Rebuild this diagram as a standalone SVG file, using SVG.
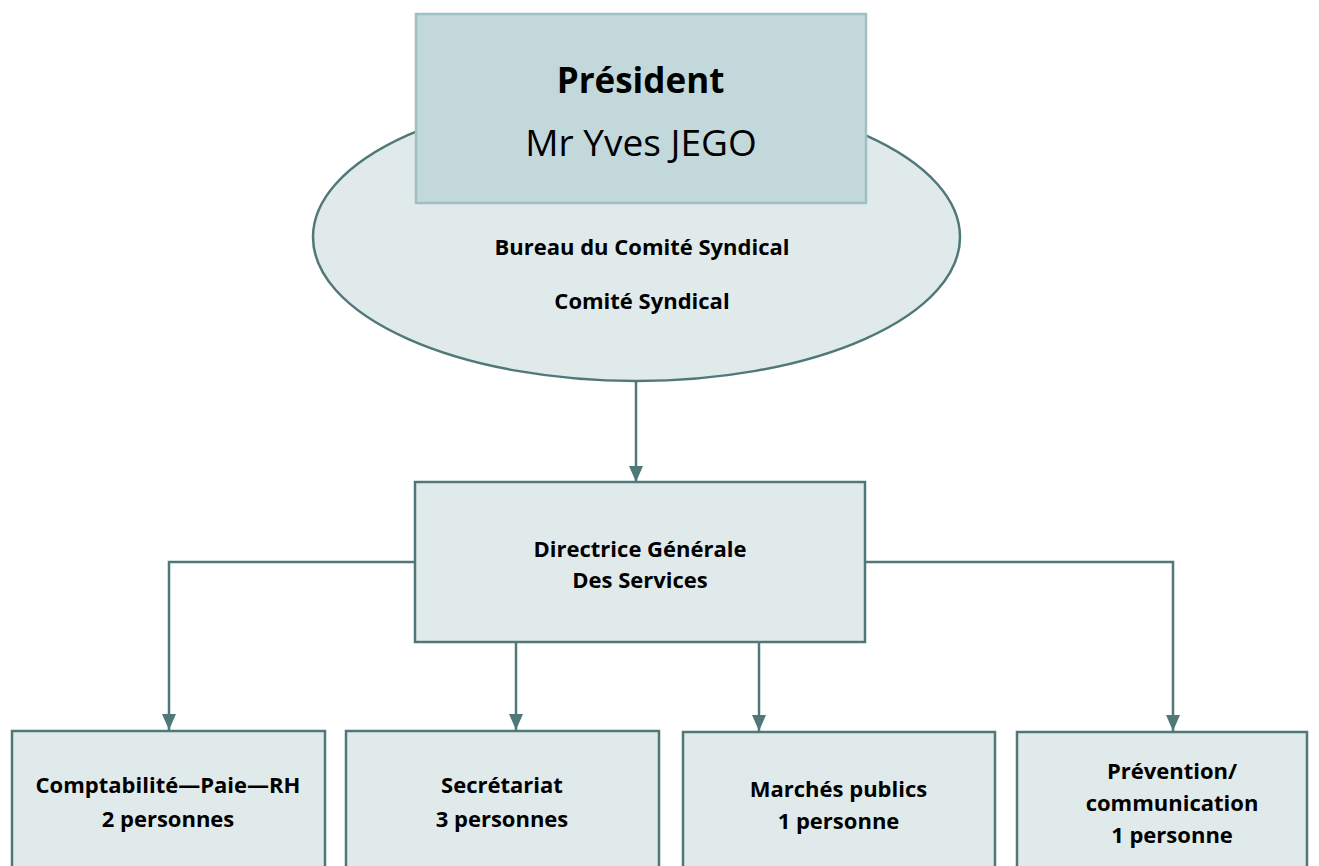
<svg xmlns="http://www.w3.org/2000/svg" width="1319" height="866" viewBox="0 0 1319 866">
<style>
.box{fill:#e1eaeb;stroke:#507878;stroke-width:2.5}
.pres{fill:#c3d8da;stroke:#9fc0c1;stroke-width:2.5}
.line{fill:none;stroke:#507878;stroke-width:2.5}
text{font-family:"Open Sans","Noto Sans","Liberation Sans",sans-serif;fill:#000;text-anchor:middle}
.b{font-weight:bold;font-size:22px}
</style>
<defs>
<marker id="ad" markerWidth="14" markerHeight="16" refX="7" refY="16" orient="0" markerUnits="userSpaceOnUse" viewBox="0 0 14 16">
<path d="M0,0 L14,0 L7,16 Z" fill="#507878"/>
</marker>
</defs>
<g id="connectors">
<path class="line" d="M636,381 V482" marker-end="url(#ad)"/>
<path class="line" d="M415,562 H169 V730" marker-end="url(#ad)"/>
<path class="line" d="M865,562 H1173 V731" marker-end="url(#ad)"/>
<path class="line" d="M516,643 V730" marker-end="url(#ad)"/>
<path class="line" d="M759,643 V731" marker-end="url(#ad)"/>
</g>
<g id="bureau">
<ellipse cx="636.5" cy="237" rx="323.5" ry="144" class="box" stroke-width="2"/>
<text class="b" x="642" y="255">Bureau du Comité Syndical</text>
<text class="b" x="642" y="309">Comité Syndical</text>
</g>
<g id="president">
<rect x="416" y="14" width="450" height="189" class="pres"/>
<text x="640.5" y="93" font-weight="bold" font-size="35">Président</text>
<text x="641" y="156" font-size="37">Mr Yves JEGO</text>
</g>
<g id="dgs">
<rect x="415" y="482" width="450" height="160" class="box"/>
<text class="b" x="640" y="557">Directrice Générale</text>
<text class="b" x="640" y="588">Des Services</text>
</g>
<g id="compta">
<rect x="12" y="731" width="313" height="150" class="box"/>
<text class="b" x="168" y="793">Comptabilité—Paie—RH</text>
<text class="b" x="168" y="827">2 personnes</text>
</g>
<g id="secretariat">
<rect x="346" y="731" width="313" height="150" class="box"/>
<text class="b" x="502" y="793">Secrétariat</text>
<text class="b" x="502" y="827">3 personnes</text>
</g>
<g id="marches">
<rect x="683" y="732" width="312" height="150" class="box"/>
<text class="b" x="838.5" y="797">Marchés publics</text>
<text class="b" x="838.5" y="829">1 personne</text>
</g>
<g id="prevention">
<rect x="1017" y="732" width="290" height="150" class="box"/>
<text class="b" x="1172" y="779">Prévention/</text>
<text class="b" x="1172" y="811">communication</text>
<text class="b" x="1172" y="843">1 personne</text>
</g>
</svg>
